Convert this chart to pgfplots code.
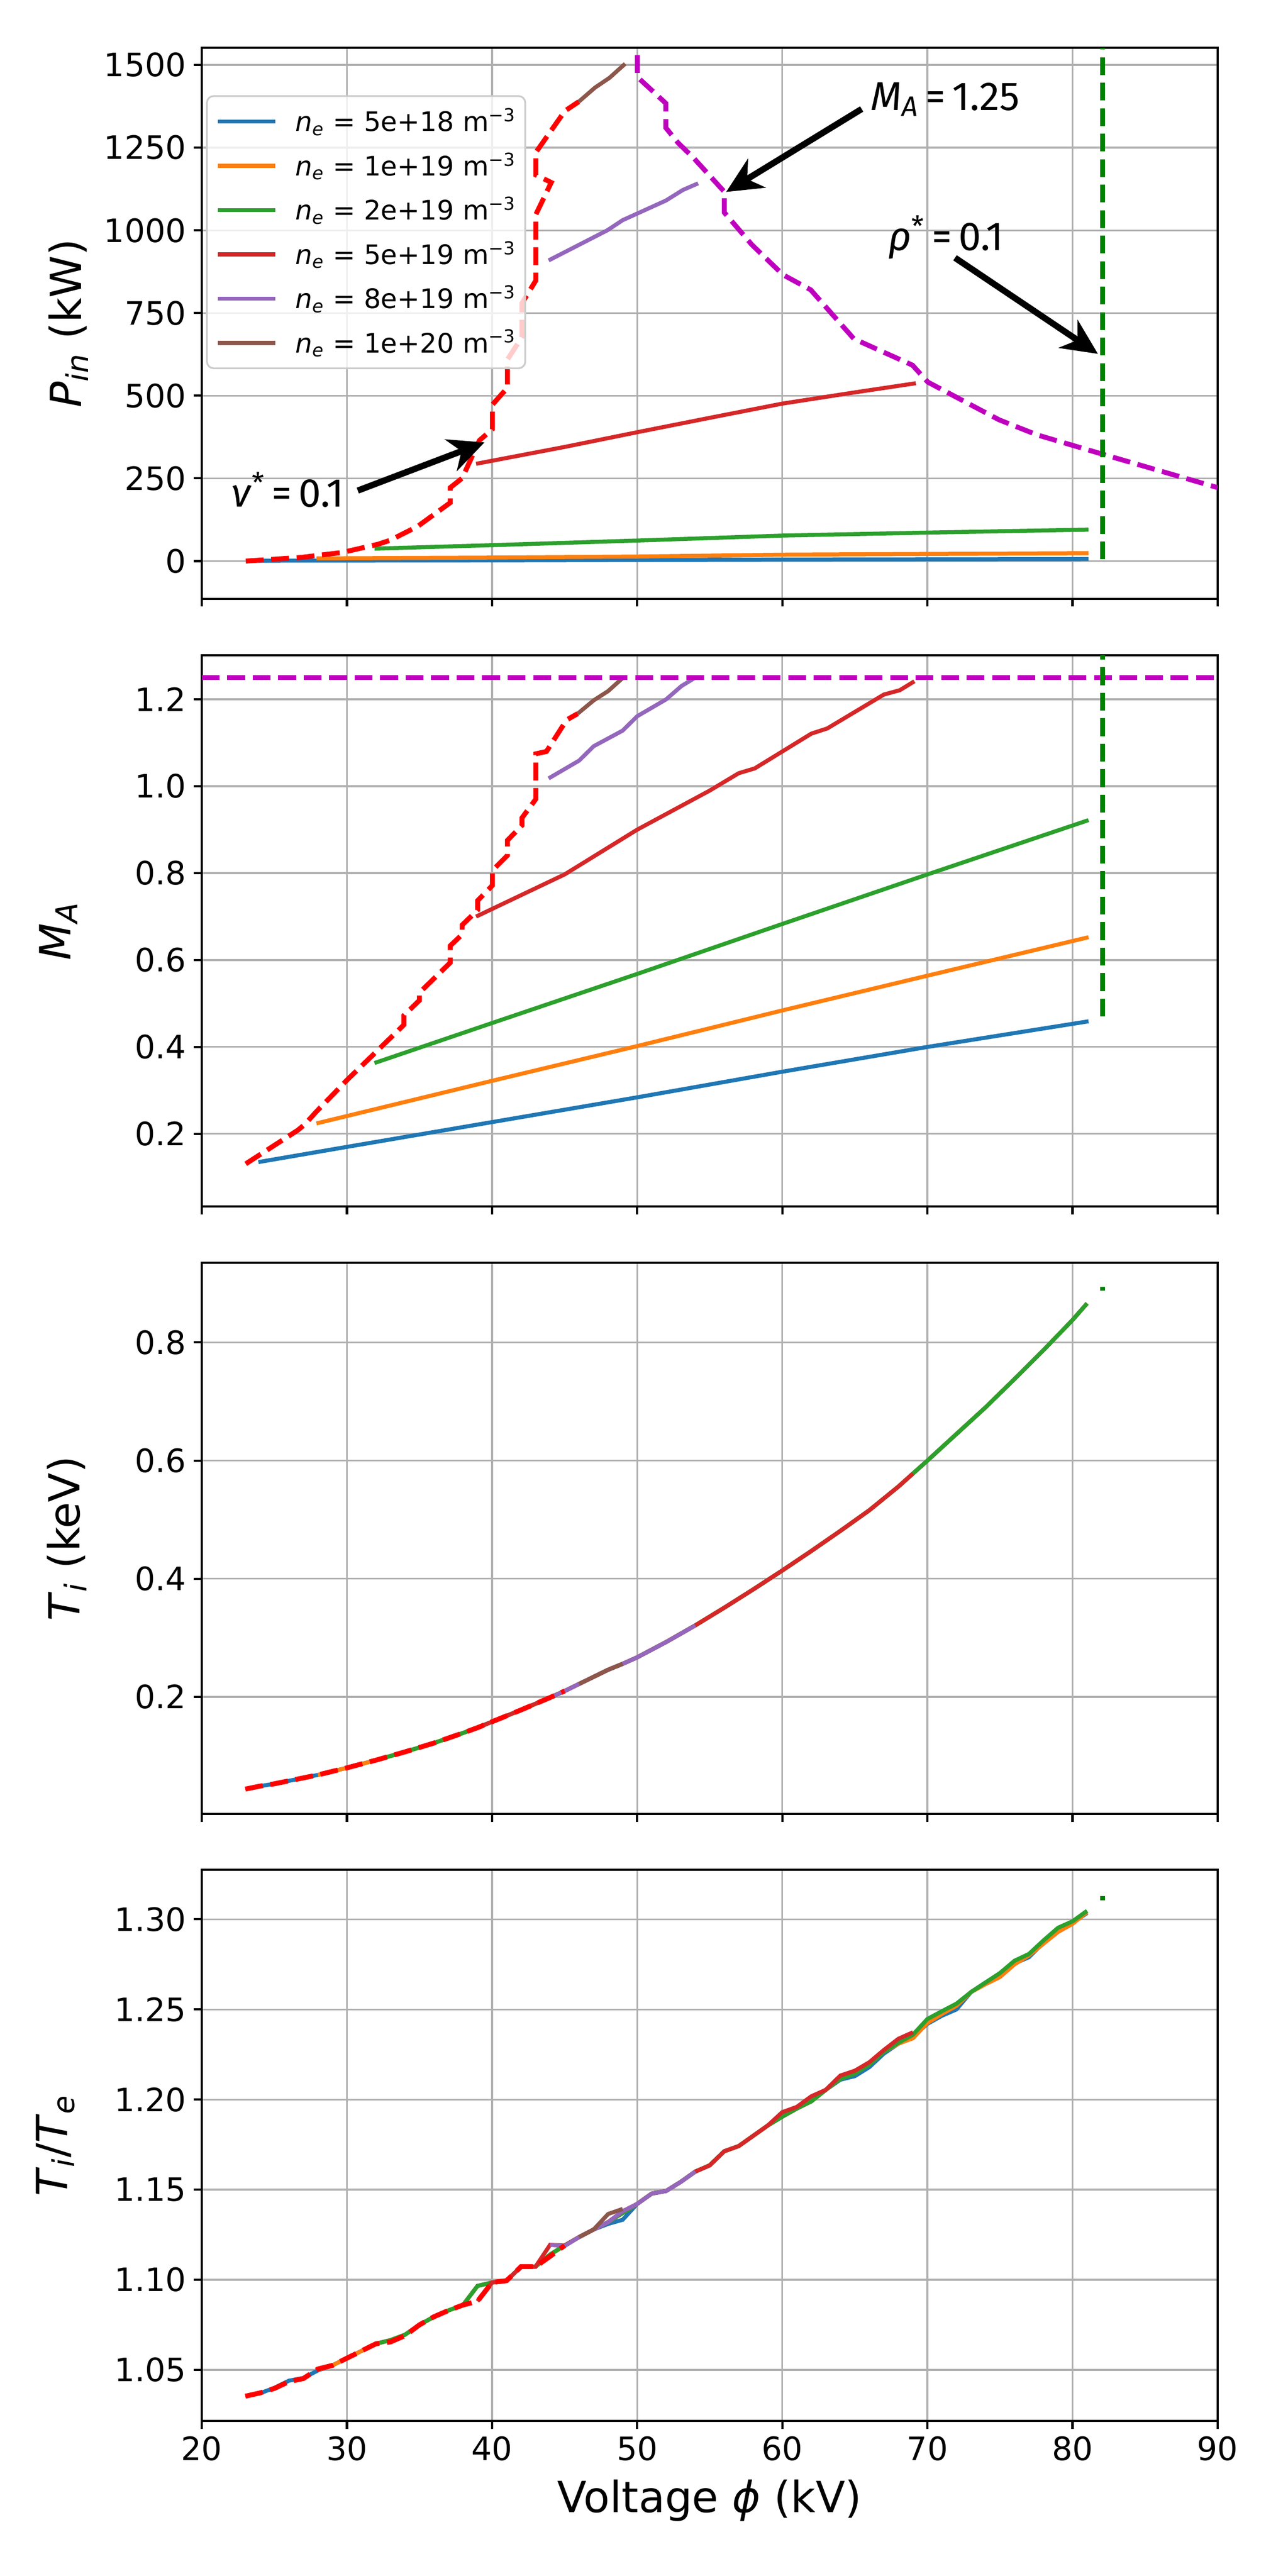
\documentclass[border=0pt]{standalone}
\usepackage{fontspec}
\setmainfont{DejaVu Sans}
\newfontfamily\annfont{Fira Sans}
\usepackage{pgfplots}
\pgfplotsset{compat=1.18}
\usepackage{pgfplotstable}
\usetikzlibrary{arrows.meta}

\definecolor{tabblue}{HTML}{1F77B4}
\definecolor{taborange}{HTML}{FF7F0E}
\definecolor{tabgreen}{HTML}{2CA02C}
\definecolor{tabred}{HTML}{D62728}
\definecolor{tabpurple}{HTML}{9467BD}
\definecolor{tabbrown}{HTML}{8C564B}
\definecolor{mred}{HTML}{FF0000}
\definecolor{mmag}{HTML}{BF00BF}
\definecolor{mgreen}{HTML}{008000}
\definecolor{gridgray}{HTML}{B0B0B0}

% T_i (keV) along the scan
\pgfplotstableread{
x  T
23 0.044
24 0.049
25 0.053
26 0.058
27 0.063
28 0.068
29 0.074
30 0.080
32 0.093
34 0.107
36 0.122
38 0.139
39 0.148
40 0.158
42 0.178
44 0.199
45 0.210
46 0.222
48 0.246
49 0.256
50 0.267
52 0.293
54 0.321
56 0.351
58 0.382
60 0.414
62 0.447
64 0.481
66 0.516
68 0.556
69 0.578
70 0.600
72 0.645
74 0.690
76 0.738
78 0.787
80 0.838
81 0.866
}\tabT

% Ti/Te, one column per density (b o g r p w) and the nu*=0.1 curve (d)
\pgfplotstableread{
x  b      o      g      r      p      w      d
23 nan    nan    nan    nan    nan    nan    1.0354
24 1.0370 nan    nan    nan    nan    nan    1.0372
25 1.0400 nan    nan    nan    nan    nan    1.0397
26 1.0440 nan    nan    nan    nan    nan    1.0435
27 1.0455 nan    nan    nan    nan    nan    1.0452
28 1.0497 1.0500 nan    nan    nan    nan    1.0505
29 1.0525 1.0525 nan    nan    nan    nan    1.0525
30 1.0565 1.0565 nan    nan    nan    nan    1.0565
31 1.0605 1.0605 nan    nan    nan    nan    1.0605
32 1.0645 1.0645 1.0645 nan    nan    nan    1.0645
33 1.0665 1.0665 1.0665 nan    nan    nan    1.0655
34 1.0695 1.0695 1.0695 nan    nan    nan    1.0690
35 1.0750 1.0750 1.0750 nan    nan    nan    1.0750
36 1.0795 1.0795 1.0795 nan    nan    nan    1.0795
37 1.0830 1.0830 1.0830 nan    nan    nan    1.0830
38 1.0860 1.0860 1.0860 nan    nan    nan    1.0860
39 1.0966 1.0966 1.0966 1.0881 nan    nan    1.0881
40 1.0985 1.0985 1.0985 1.0985 nan    nan    1.0985
41 1.0995 1.0995 1.0995 1.0995 nan    nan    1.0995
42 1.1073 1.1073 1.1073 1.1073 nan    nan    1.1073
43 1.1073 1.1073 1.1073 1.1073 nan    nan    1.1073
44 1.1140 1.1140 1.1140 1.1194 1.1194 nan    1.1130
45 1.1190 1.1190 1.1190 1.1190 1.1187 nan    1.1190
46 1.1237 1.1237 1.1237 1.1237 1.1237 1.1237 nan
47 1.1279 1.1279 1.1279 1.1279 1.1279 1.1279 nan
48 1.1310 1.1320 1.1320 1.1320 1.1320 1.1365 nan
49 1.1333 1.1370 1.1370 1.1380 1.1380 1.1393 nan
50 1.1421 1.1421 1.1421 1.1421 1.1421 nan    nan
51 1.1478 1.1478 1.1478 1.1478 1.1478 nan    nan
52 1.1493 1.1493 1.1493 1.1493 1.1493 nan    nan
53 1.1543 1.1543 1.1543 1.1543 1.1543 nan    nan
54 1.1600 1.1600 1.1600 1.1600 1.1600 nan    nan
55 1.1635 1.1635 1.1635 1.1635 nan    nan    nan
56 1.1713 1.1713 1.1713 1.1713 nan    nan    nan
57 1.1742 1.1742 1.1742 1.1742 nan    nan    nan
58 1.1799 1.1799 1.1799 1.1799 nan    nan    nan
59 1.1856 1.1856 1.1856 1.1856 nan    nan    nan
60 1.1905 1.1905 1.1905 1.1930 nan    nan    nan
61 1.1950 1.1950 1.1950 1.1959 nan    nan    nan
62 1.1990 1.1990 1.1990 1.2018 nan    nan    nan
63 1.2054 1.2054 1.2054 1.2054 nan    nan    nan
64 1.2110 1.2115 1.2115 1.2133 nan    nan    nan
65 1.2130 1.2145 1.2145 1.2160 nan    nan    nan
66 1.2180 1.2195 1.2195 1.2207 nan    nan    nan
67 1.2255 1.2265 1.2265 1.2275 nan    nan    nan
68 1.2310 1.2310 1.2315 1.2337 nan    nan    nan
69 1.2350 1.2340 1.2360 1.2373 nan    nan    nan
70 1.2420 1.2425 1.2447 nan    nan    nan    nan
71 1.2465 1.2475 1.2490 nan    nan    nan    nan
72 1.2500 1.2520 1.2532 nan    nan    nan    nan
73 1.2596 1.2596 1.2596 nan    nan    nan    nan
74 1.2649 1.2640 1.2649 nan    nan    nan    nan
75 1.2700 1.2680 1.2702 nan    nan    nan    nan
76 1.2755 1.2750 1.2770 nan    nan    nan    nan
77 1.2790 1.2800 1.2808 nan    nan    nan    nan
78 1.2870 1.2865 1.2883 nan    nan    nan    nan
79 1.2940 1.2930 1.2953 nan    nan    nan    nan
80 1.2980 1.2975 1.2989 nan    nan    nan    nan
81 1.3035 1.3040 1.3047 nan    nan    nan    nan
}\tabR

\pgfplotsset{
  panel/.style={
    scale only axis, width=454.32pt, height=246.4pt,
    xmin=20, xmax=90, xtick={20,30,...,90},
    grid=major, major grid style={gridgray, line width=0.8pt},
    axis line style={line width=1pt},
    tick align=outside, tick pos=left, major tick length=3.5pt,
    major tick style={black, line width=1pt},
    tick label style={font=\fontsize{14.4}{17}\selectfont},
    /pgf/number format/assume math mode=true,
    scaled ticks=false,
    label style={font=\fontsize{19.2}{23}\selectfont},
    ylabel style={anchor=center},
    clip=true,
  },
  ser/.style={line width=1.8pt},
  bnd/.style={line width=2.2pt, dash pattern=on 8pt off 3.4pt},
  legend image code/.code={\draw[#1] (0pt,0pt) -- (25.7pt,0pt);},
}
\tikzset{
  ann/.style={anchor=base west, inner sep=0, font=\annfont\fontsize{18}{22}\selectfont},
  arr/.style={line width=2.8pt, -{Stealth[length=16pt, width=15pt, inset=5pt]}},
}

\begin{document}
\begin{tikzpicture}
\useasboundingbox (-90.24pt,-69.36pt) rectangle (485.76pt,1082.64pt);

% ---------- P_in ----------
\begin{axis}[panel, at={(0pt,814.87pt)}, anchor=south west,
  ymin=-114, ymax=1552, ytick={0,250,...,1500},
  yticklabel style={/pgf/number format/.cd, fixed, 1000 sep={}},
  xticklabels={},
  ylabel={\textit{P}\textsubscript{\textit{in}} (kW)},
  ylabel style={at={(axis description cs:-0.131,0.5)}},
  legend cell align=left,
  legend style={at={(0.0042,0.914)}, anchor=north west,
    draw=black!20, line width=0.8pt, rounded corners=3pt,
    fill=white, fill opacity=0.8, text opacity=1,
    font=\fontsize{12}{14.4}\selectfont, row sep=4pt, column sep=8pt,
    inner xsep=4pt, inner ysep=3.5pt,
    nodes={inner xsep=0pt, inner ysep=2pt}},
]
\addplot[ser, tabblue] coordinates {(23.9,1) (40,2) (50,3.4) (60,4.5) (81.1,6)};
\addlegendentry{\textit{n}\textsubscript{\textit{e}} = 5e+18 m\textsuperscript{−3}}
\addplot[ser, taborange] coordinates {(27.9,8) (40,10.5) (50,13.6) (60,19.3) (70,21.5) (81.1,23.7)};
\addlegendentry{\textit{n}\textsubscript{\textit{e}} = 1e+19 m\textsuperscript{−3}}
\addplot[ser, tabgreen] coordinates {(31.9,37.5) (40,48) (50,62) (60,77) (70,86) (81.1,95)};
\addlegendentry{\textit{n}\textsubscript{\textit{e}} = 2e+19 m\textsuperscript{−3}}
\addplot[ser, tabred] coordinates {(38.9,294) (45,345) (50,389.5) (55,433) (60,476) (65,510) (69.2,537.6)};
\addlegendentry{\textit{n}\textsubscript{\textit{e}} = 5e+19 m\textsuperscript{−3}}
\addplot[ser, tabpurple] coordinates {(43.9,909) (47.94,1000) (49.0,1030.7) (51.98,1090) (53.15,1122) (54.2,1142)};
\addlegendentry{\textit{n}\textsubscript{\textit{e}} = 8e+19 m\textsuperscript{−3}}
\addplot[ser, tabbrown] coordinates {(45.97,1388.7) (47.1,1431.7) (48.09,1461) (49.17,1503.5)};
\addlegendentry{\textit{n}\textsubscript{\textit{e}} = 1e+20 m\textsuperscript{−3}}

\addplot[bnd, mred, forget plot] coordinates {
  (23.03,0) (26.86,11) (29.69,26) (32.16,51) (32.99,63) (34.88,105)
  (37.12,176.5) (37.12,222) (37.94,250.5) (39.13,364.7) (40.02,398.8)
  (40.02,472.6) (41.06,524) (41.06,609) (42.07,677.7) (42.07,780)
  (43.02,848.5) (43.02,1048) (44.08,1144.7) (43.02,1167.4) (43.02,1235.7)
  (45.02,1361) (45.97,1388.7)};
\addplot[bnd, mmag, forget plot] coordinates {
  (50.02,1530) (50.02,1463.5) (51.98,1383.8) (51.98,1309.8) (52.83,1264)
  (53.89,1218.7) (56.01,1116.3) (56.01,1053.6) (57.9,956.6) (60.05,865.6)
  (61.96,820) (64.93,672) (68.97,592.3) (70.03,541) (74.94,427)
  (77.55,381.6) (81.95,324.6) (90,222)};
\addplot[bnd, mgreen, forget plot] coordinates {(82.08,5) (82.08,1600)};

\node[ann] at (axis cs:22.02,163.3) {\textit{ν}\textsuperscript{*}\,=\,0.1};
\draw[arr] (axis cs:30.75,213) -- (axis cs:39.48,358.7);
\node[ann] at (axis cs:66.06,1363) {\textit{M}\textsubscript{\textit{A}}\,=\,1.25};
\draw[arr] (axis cs:65.47,1366.8) -- (axis cs:56.13,1116);
\node[ann] at (axis cs:67.28,939) {\textit{ρ}\textsuperscript{*}\,=\,0.1};
\draw[arr] (axis cs:71.9,916.9) -- (axis cs:81.75,626.4);
\end{axis}

% ---------- M_A ----------
\begin{axis}[panel, at={(0pt,543.12pt)}, anchor=south west,
  ymin=0.033, ymax=1.301, ytick={0.2,0.4,0.6,0.8,1.0,1.2},
  yticklabel style={/pgf/number format/.cd, fixed, fixed zerofill, precision=1},
  xticklabels={},
  ylabel={\textit{M}\textsubscript{\textit{A}}},
  ylabel style={at={(axis description cs:-0.141,0.5)}},
]
\addplot[ser, tabblue] coordinates {(23.9,0.135) (30,0.170) (40,0.227) (50,0.284) (60,0.343) (70,0.400) (81.1,0.459)};
\addplot[ser, taborange] coordinates {(27.9,0.224) (40,0.322) (50,0.402) (60,0.484) (70,0.564) (81.1,0.6525)};
\addplot[ser, tabgreen] coordinates {(31.9,0.363) (40,0.455) (50,0.568) (60,0.683) (70,0.797) (81.1,0.922)};
\addplot[ser, tabred] coordinates {(38.9,0.700) (45,0.797) (50,0.900) (55,0.990) (57,1.030) (58.1,1.041) (62,1.121) (63.1,1.133) (67,1.211) (68.1,1.221) (69.1,1.2415)};
\addplot[ser, tabpurple] coordinates {(43.9,1.018) (46,1.059) (47,1.092) (49,1.128) (50,1.161) (52,1.200) (53.05,1.2305) (54.1,1.252)};
\addplot[ser, tabbrown] coordinates {(45.9,1.167) (47,1.1975) (48,1.219) (49.1,1.252)};
\addplot[bnd, mred] coordinates {
  (23.03,0.131) (26.62,0.2085) (27.09,0.2215) (27.92,0.252) (30.04,0.325)
  (31.93,0.386) (33.93,0.451) (33.93,0.4727) (34.99,0.507) (34.99,0.5246)
  (37.12,0.594) (37.12,0.6328) (37.94,0.6589) (37.94,0.6805) (39.01,0.7152)
  (39.01,0.7368) (40.02,0.7715) (40.02,0.806) (41.06,0.8407) (41.06,0.8754)
  (42.07,0.91) (42.07,0.9274) (43.02,0.9706) (43.02,1.0746) (43.75,1.080)
  (45.14,1.1526) (45.9,1.167)};
\addplot[bnd, mmag] coordinates {(20,1.25) (90,1.25)};
\addplot[bnd, mgreen] coordinates {(82.08,0.47) (82.08,1.35)};
\end{axis}

% ---------- T_i ----------
\begin{axis}[panel, at={(0pt,271.44pt)}, anchor=south west,
  ymin=0.002, ymax=0.9345, ytick={0.2,0.4,0.6,0.8},
  yticklabel style={/pgf/number format/.cd, fixed, fixed zerofill, precision=1},
  xticklabels={},
  ylabel={\textit{T}\textsubscript{\textit{i}} (keV)},
  ylabel style={at={(axis description cs:-0.133,0.5)}},
]
\addplot[ser, tabblue, restrict x to domain=24:81] table[x=x, y=T] {\tabT};
\addplot[ser, taborange, restrict x to domain=28:81] table[x=x, y=T] {\tabT};
\addplot[ser, tabgreen, restrict x to domain=32:81] table[x=x, y=T] {\tabT};
\addplot[ser, tabred, restrict x to domain=39:69] table[x=x, y=T] {\tabT};
\addplot[ser, tabpurple, restrict x to domain=44:54] table[x=x, y=T] {\tabT};
\addplot[ser, tabbrown, restrict x to domain=46:49] table[x=x, y=T] {\tabT};
\addplot[bnd, mred, restrict x to domain=23:45] table[x=x, y=T] {\tabT};
\addplot[bnd, mgreen] coordinates {(82.08,0.888) (82.08,0.894)};
\end{axis}

% ---------- Ti/Te ----------
\begin{axis}[panel, at={(0pt,0pt)}, anchor=south west,
  ymin=1.0217, ymax=1.3274, ytick={1.05,1.10,1.15,1.20,1.25,1.30},
  yticklabel style={/pgf/number format/.cd, fixed, fixed zerofill, precision=2},
  xlabel={Voltage \textit{ϕ} (kV)},
  xlabel style={at={(axis description cs:0.5,-0.1665)}, anchor=base},
  ylabel={\textit{T}\textsubscript{\textit{i}}/\textit{T}\textsubscript{\textit{e}}},
  ylabel style={at={(axis description cs:-0.144,0.5)}},
]
\addplot[ser, tabblue] table[x=x, y=b] {\tabR};
\addplot[ser, taborange] table[x=x, y=o] {\tabR};
\addplot[ser, tabgreen] table[x=x, y=g] {\tabR};
\addplot[ser, tabred] table[x=x, y=r] {\tabR};
\addplot[ser, tabpurple] table[x=x, y=p] {\tabR};
\addplot[ser, tabbrown] table[x=x, y=w] {\tabR};
\addplot[bnd, mred] table[x=x, y=d] {\tabR};
\addplot[bnd, mgreen] coordinates {(82.08,1.3105) (82.08,1.3128)};
\end{axis}
\end{tikzpicture}
\end{document}
